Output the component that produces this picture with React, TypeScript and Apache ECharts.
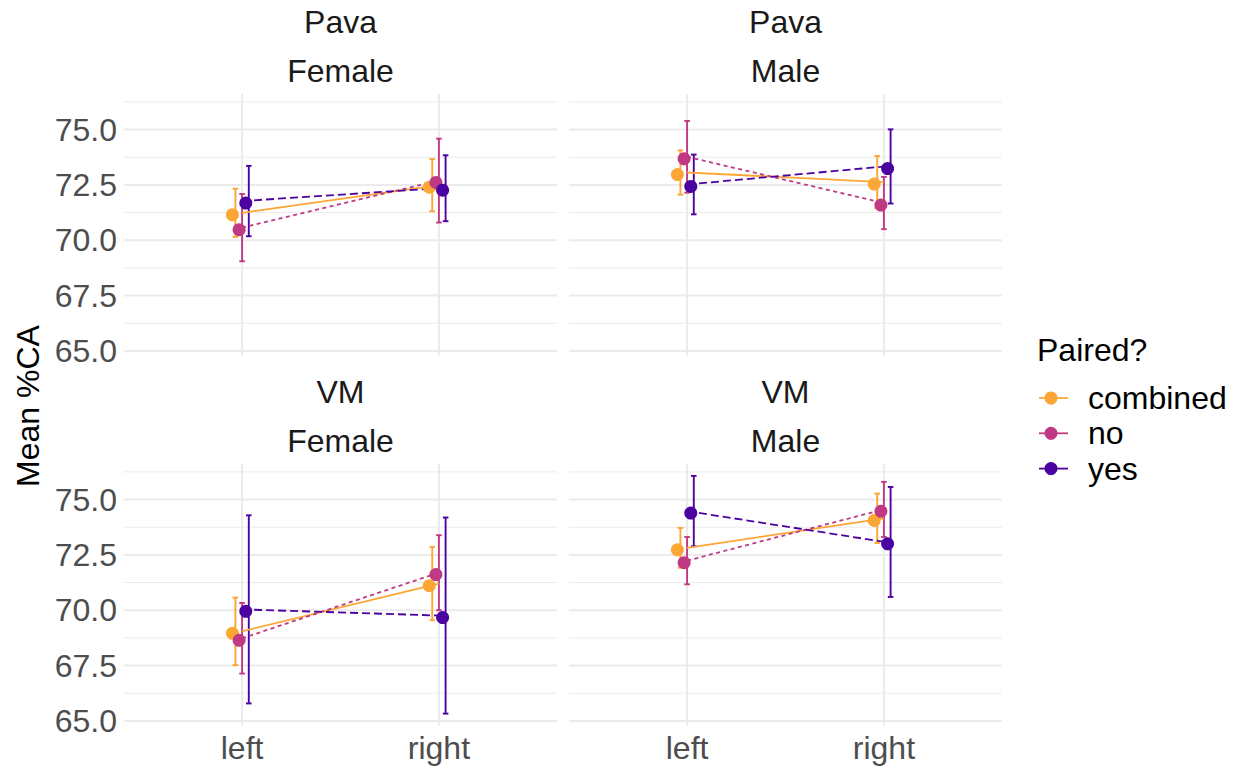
import React, { useEffect, useRef } from 'react';
import * as echarts from 'echarts';

// facets
const facetRegion = ['Pava', 'Pava', 'VM', 'VM'];
const facetSex = ['Female', 'Male', 'Female', 'Male'];
const sides = ['left', 'right'];
const groups = ['combined', 'no', 'yes'];
const groupColors = ['#FCA636', '#C03A83', '#4C02A1'];

// values per panel: [left, right]
const combinedMean = [[71.24, 72.49], [73.06, 72.63], [69.05, 71.2], [72.82, 74.15]];
const combinedLow = [[70.15, 71.31], [72.06, 71.45], [67.52, 69.55], [71.92, 73.04]];
const combinedHigh = [[72.33, 73.67], [74.06, 73.81], [70.57, 72.86], [73.72, 75.27]];
const noMean = [[70.57, 72.7], [73.77, 71.68], [68.73, 71.7], [72.24, 74.56]];
const noLow = [[69.05, 70.8], [72.15, 70.5], [67.14, 70.0], [71.17, 73.31]];
const noHigh = [[72.09, 74.59], [75.39, 72.86], [70.33, 73.39], [73.31, 75.8]];
const yesMean = [[71.77, 72.35], [72.52, 73.33], [70.04, 69.76], [74.48, 73.09]];
const yesLow = [[70.18, 70.86], [71.17, 71.66], [65.79, 65.33], [72.89, 70.6]];
const yesHigh = [[73.36, 73.84], [73.87, 75.01], [74.29, 74.19], [76.07, 75.57]];

const yMajorTicks = [65, 67.5, 70, 72.5, 75];
const yMinorTicks = [66.25, 68.75, 71.25, 73.75, 76.25];
const yTickLabels = ['65.0', '67.5', '70.0', '72.5', '75.0'];
const xPositions = [1, 2];

const means = [combinedMean, noMean, yesMean];
const lows = [combinedLow, noLow, yesLow];
const highs = [combinedHigh, noHigh, yesHigh];

const FONT = '"Liberation Sans", Arial, Helvetica, sans-serif';
const FS = 32;

export default function App() {
  const ref = useRef<HTMLDivElement>(null);

  useEffect(() => {
    if (!ref.current) return;
    const chart = echarts.init(ref.current, undefined, { renderer: 'svg' });

    const allVals = [...lows.flat(2), ...highs.flat(2)];
    const dMin = Math.min(...allVals);
    const dMax = Math.max(...allVals);
    const pad = (dMax - dMin) * 0.05;
    const yMin = dMin - pad;
    const yMax = dMax + pad;
    const xMin = 0.4;
    const xMax = 2.6;

    const gridRects = [
      { left: 124, top: 94 },
      { left: 569, top: 94 },
      { left: 124, top: 464 },
      { left: 569, top: 464 },
    ];
    const GW = 433;
    const GH = 261.5;
    const errDodge = [-0.034, 0, 0.034];

    const grids = gridRects.map((r) => ({
      left: r.left,
      top: r.top,
      width: GW,
      height: GH,
      containLabel: false,
      outerBoundsMode: 'none',
    }));

    const xAxes = gridRects.map((_, i) => ({
      type: 'value',
      gridIndex: i,
      min: xMin,
      max: xMax,
      axisLine: { show: false },
      axisTick: { show: false },
      splitLine: { show: false },
      axisLabel: {
        show: i >= 2,
        customValues: xPositions,
        formatter: (v: number) => sides[Math.round(v) - 1] ?? '',
        color: '#4D4D4D',
        fontSize: FS,
        fontFamily: FONT,
        margin: 6,
      },
    }));

    const yAxes = gridRects.map((_, i) => ({
      type: 'value',
      gridIndex: i,
      min: yMin,
      max: yMax,
      axisLine: { show: false },
      axisTick: { show: false },
      splitLine: { show: false },
      axisLabel: {
        show: i % 2 === 0,
        customValues: yMajorTicks,
        formatter: (v: number) => {
          const k = yMajorTicks.findIndex((t) => Math.abs(t - v) < 1e-6);
          return k >= 0 ? yTickLabels[k] : '';
        },
        color: '#4D4D4D',
        fontSize: FS,
        fontFamily: FONT,
        margin: 7,
      },
    }));

    const series: any[] = [];
    const gridLine = (p: number, data: number[][], width: number) => ({
      type: 'line',
      xAxisIndex: p,
      yAxisIndex: p,
      data,
      silent: true,
      symbol: 'none',
      z: 0,
      lineStyle: { color: '#EBEBEB', width, type: 'solid' },
    });
    gridRects.forEach((_, p) => {
      yMinorTicks.forEach((v) => series.push(gridLine(p, [[xMin, v], [xMax, v]], 1)));
      yMajorTicks.forEach((v) => series.push(gridLine(p, [[xMin, v], [xMax, v]], 2)));
      xPositions.forEach((v) => series.push(gridLine(p, [[v, yMin], [v, yMax]], 2)));

      groups.forEach((g, gi) => {
        const color = groupColors[gi];
        series.push({
          type: 'custom',
          name: g,
          xAxisIndex: p,
          yAxisIndex: p,
          z: 2,
          silent: true,
          encode: { x: 0, y: [1, 2] },
          data: xPositions.map((x, s) => [x + errDodge[gi], lows[gi][p][s], highs[gi][p][s]]),
          renderItem: (params: any, api: any) => {
            const x = api.value(0);
            const a = api.coord([x, api.value(1)]);
            const b = api.coord([x, api.value(2)]);
            const hw = 2.8;
            const st = { stroke: color, lineWidth: 1.9, fill: null };
            return {
              type: 'group',
              children: [
                { type: 'line', shape: { x1: a[0], y1: a[1], x2: b[0], y2: b[1] }, style: st },
                { type: 'line', shape: { x1: a[0] - hw, y1: a[1], x2: a[0] + hw, y2: a[1] }, style: st },
                { type: 'line', shape: { x1: b[0] - hw, y1: b[1], x2: b[0] + hw, y2: b[1] }, style: st },
              ],
            };
          },
        });
      });
      groups.forEach((g, gi) => {
        const color = groupColors[gi];
        series.push({
          type: 'line',
          name: g,
          xAxisIndex: p,
          yAxisIndex: p,
          z: 3,
          silent: true,
          symbol: 'none',
          data: xPositions.map((x, s) => [x, means[gi][p][s]]),
          lineStyle: {
            color,
            width: 1.8,
            type: gi === 0 ? 'solid' : gi === 1 ? [4, 3.5] : [8, 4],
          },
        });
      });
      groups.forEach((g, gi) => {
        const color = groupColors[gi];
        series.push({
          type: 'scatter',
          name: g,
          xAxisIndex: p,
          yAxisIndex: p,
          z: 4,
          silent: true,
          symbol: 'circle',
          symbolSize: 13,
          symbolOffset: [-3, 2],
          data: xPositions.map((x, s) => [x + errDodge[gi], means[gi][p][s]]),
          itemStyle: { color, opacity: 1 },
        });
      });
    });

    const centersX = gridRects.map((r) => r.left + GW / 2);
    const graphic: any[] = [];
    gridRects.forEach((r, p) => {
      graphic.push({
        type: 'text',
        x: centersX[p],
        y: r.top - 72,
        style: { text: facetRegion[p], font: `${FS}px ${FONT}`, fill: '#1A1A1A', textAlign: 'center', textVerticalAlign: 'middle' },
      });
      graphic.push({
        type: 'text',
        x: centersX[p],
        y: r.top - 23,
        style: { text: facetSex[p], font: `${FS}px ${FONT}`, fill: '#1A1A1A', textAlign: 'center', textVerticalAlign: 'middle' },
      });
    });
    graphic.push({
      type: 'text',
      x: 28,
      y: 406,
      rotation: Math.PI / 2,
      style: { text: 'Mean %CA', font: `${FS}px ${FONT}`, fill: '#000', textAlign: 'center', textVerticalAlign: 'middle' },
    });
    graphic.push({
      type: 'text',
      x: 1037,
      y: 350,
      style: { text: 'Paired?', font: `${FS}px ${FONT}`, fill: '#000', textAlign: 'left', textVerticalAlign: 'middle' },
    });
    groups.forEach((g, gi) => {
      const y = 398 + gi * 35.3;
      graphic.push({ type: 'line', shape: { x1: 1039, y1: y, x2: 1068, y2: y }, style: { stroke: groupColors[gi], lineWidth: 1.8 } });
      graphic.push({ type: 'circle', shape: { cx: 1051, cy: y, r: 6.5 }, style: { fill: groupColors[gi] } });
      graphic.push({
        type: 'text',
        x: 1088,
        y,
        style: { text: g, font: `${FS}px ${FONT}`, fill: '#000', textAlign: 'left', textVerticalAlign: 'middle' },
      });
    });

    chart.setOption({
      animation: false,
      backgroundColor: '#FFFFFF',
      textStyle: { fontFamily: FONT },
      grid: grids,
      xAxis: xAxes,
      yAxis: yAxes,
      series,
      graphic,
    });

    return () => chart.dispose();
  }, []);

  return <div ref={ref} style={{ position: 'absolute', left: 0, top: 0, width: 1239, height: 768 }} />;
}
